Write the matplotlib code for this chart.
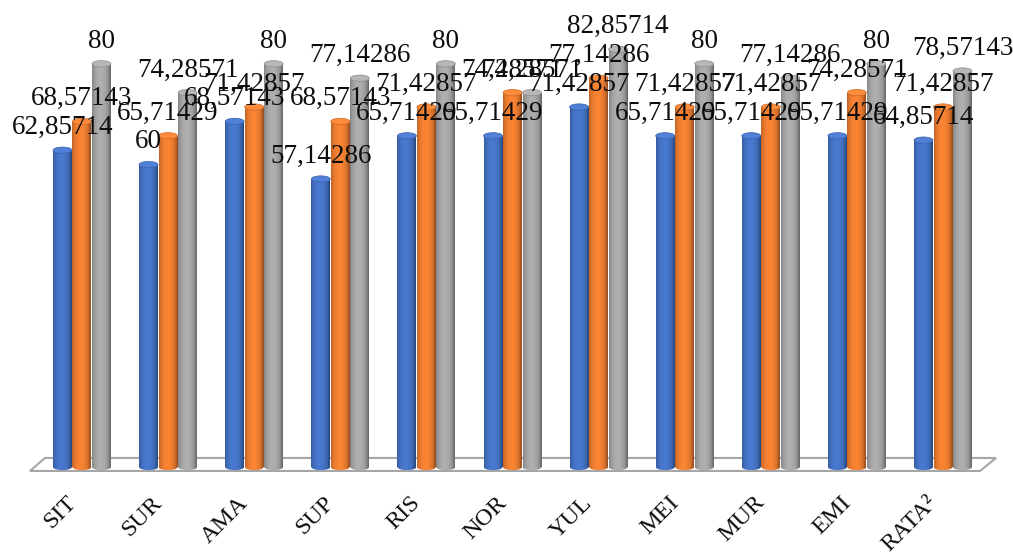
import numpy as np
import matplotlib.pyplot as plt
from matplotlib.patches import Rectangle, Ellipse, Polygon
from matplotlib.colors import to_rgb

# categories and the three series
categories = ['SIT', 'SUR', 'AMA', 'SUP', 'RIS', 'NOR', 'YUL', 'MEI', 'MUR', 'EMI', 'RATA²']
series_blue = [62.85714, 60, 68.57143, 57.14286, 65.71429, 65.71429, 71.42857, 65.71429, 65.71429, 65.71429, 64.85714]
series_orange = [68.57143, 65.71429, 71.42857, 68.57143, 71.42857, 74.28571, 77.14286, 71.42857, 71.42857, 74.28571, 71.42857]
series_gray = [80, 74.28571, 80, 77.14286, 80, 74.28571, 82.85714, 80, 77.14286, 80, 78.57143]

colors = ['#4472C4', '#ED7D31', '#A5A5A5']
serif = 'Liberation Serif'

fig = plt.figure(figsize=(10.13, 5.58), dpi=100)
ax = fig.add_axes([0, 0, 1, 1])
ax.set_axis_off()

bar_w = 0.22
offsets = [-0.2265, 0.0, 0.2265]
cap_h = 1.25  # height of ellipse caps, in data units


def fmt(v):
    s = f"{v:.5f}".rstrip('0').rstrip('.')
    return s.replace('.', ',')


def shade(base, n=40):
    # horizontal lighting profile of a cylinder
    t = np.linspace(0, 1, n)
    prof = 0.80 + 0.26 * np.sin(np.pi * np.clip(t * 1.1, 0, 1)) ** 0.7
    prof = np.where(t > 0.88, prof * (1 - (t - 0.88) * 1.8), prof)
    rgb = np.array(to_rgb(base))
    img = np.clip(rgb[None, :] * prof[:, None], 0, 1)
    return img[None, :, :]


def cylinder(x, v, color, z):
    x0, x1 = x - bar_w / 2, x + bar_w / 2
    img = shade(color)
    rect = Rectangle((x0, 0), bar_w, v, transform=ax.transData, facecolor='none', edgecolor='none')
    ax.add_patch(rect)
    im = ax.imshow(img, extent=[x0, x1, 0, v], aspect='auto', interpolation='bilinear', zorder=z)
    im.set_clip_path(rect)
    bottom = Ellipse((x, 0), bar_w, cap_h, facecolor='none', edgecolor='none')
    ax.add_patch(bottom)
    im2 = ax.imshow(img, extent=[x0, x1, -cap_h / 2, cap_h / 2], aspect='auto',
                    interpolation='bilinear', zorder=z)
    im2.set_clip_path(bottom)
    rgb = np.array(to_rgb(color))
    top_col = np.clip(rgb * 1.06 + 0.03, 0, 1)
    ax.add_patch(Ellipse((x, v), bar_w, cap_h, facecolor=top_col,
                         edgecolor=rgb * 0.85, linewidth=0.5, zorder=z + 0.1))


n = len(categories)
idx = np.arange(n)

# floor of the 3D plot
floor = Polygon([(-0.604, -0.79), (-0.430, 1.79), (10.616, 1.79), (10.43, -0.79)],
                closed=True, facecolor='white', edgecolor='#A6A6A6', linewidth=1.5, zorder=1)
ax.add_patch(floor)

for s, (vals, col) in enumerate(zip([series_blue, series_orange, series_gray], colors)):
    for i, v in enumerate(vals):
        cylinder(idx[i] + offsets[s], v, col, 2 + s)

for s, vals in enumerate([series_blue, series_orange, series_gray]):
    for i, v in enumerate(vals):
        ax.text(idx[i] + offsets[s], v + 3.2, fmt(v), ha='center', va='baseline',
                fontsize=19.5, family=serif, color='#0d0d0d', zorder=10)

for i, c in enumerate(categories):
    ax.text(idx[i] - 0.02, -5.0, c, ha='right', va='top', rotation=45,
            fontsize=17.5, family=serif, color='#0d0d0d')

ax.set_xlim(-0.952, 10.813)
ax.set_ylim(-18.06, 92.66)

fig.savefig('out.png', dpi=100)
